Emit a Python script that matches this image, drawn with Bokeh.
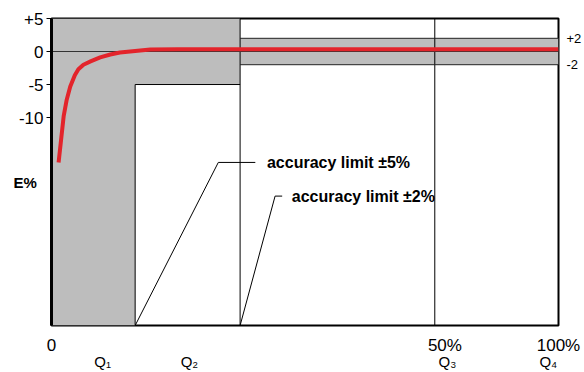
from bokeh.plotting import figure
from bokeh.models import Range1d, FixedTicker, LinearAxis
from bokeh.core.properties import value
from bokeh.embed import file_html
from bokeh.resources import INLINE

FONT = "Liberation Sans"

# x axis: position along flow-rate scale (0..100 of the drawn axis)
q1_edge = 16.5   # end of Q1 zone
q2_edge = 37.2   # end of Q2 zone
q3_pos = 75.6    # 50 % line
q4_pos = 100.0   # 100 %
y_top, y_bottom = 5.0, -41.5

x_tick_pos = [0, 77.6, 100]
x_tick_labels = ["0", "50%", "100%"]
y_ticks = [5, 0, -5, -10]
y_tick_labels = ["+5", "0", "-5", "-10"]

# error curve (E%)
curve_x = [1.4, 2.4, 3.0, 3.7, 4.6, 5.3, 6.3, 7.7, 9.6, 11.6, 13.5, 15.5, 19.5, 25, 40, 60, 80, 100]
curve_e = [-16.8, -9.8, -7.3, -5.3, -3.6, -2.7, -2.0, -1.5, -0.9, -0.45, -0.15, 0.0, 0.3, 0.35, 0.35, 0.35, 0.35, 0.35]

limit_low = 5   # ±5 %
limit_high = 2  # ±2 %
band_ticks = [2, -2]
band_labels = ["+2", "-2"]

q_labels = ["Q₁", "Q₂", "Q₃", "Q₄"]
q_label_x = [10.1, 27.2, 78.1, 98.0]

lead5_x = [q1_edge, 32.9, 40.2]
lead5_y = [y_bottom, -16.8, -16.8]
lead2_x = [q2_edge, 44.1, 45.5]
lead2_y = [y_bottom, -21.9, -21.9]
text5 = "accuracy limit ±5%"
text2 = "accuracy limit ±2%"
text5_x = 42.5
text2_x = 47.4

GREY = "#bdbdbd"

p = figure(width=584, height=372, output_backend="svg", toolbar_location=None,
           x_range=Range1d(0, 100), y_range=Range1d(y_bottom, y_top),
           min_border_left=51, min_border_right=25, min_border_top=18, min_border_bottom=46)
p.xgrid.visible = False
p.ygrid.visible = False
p.background_fill_color = "white"
p.border_fill_color = "white"
p.outline_line_color = "black"
p.outline_line_width = 2

# grey ±5 % zone
p.patch([0, q2_edge, q2_edge, q1_edge, q1_edge, 0],
        [y_top, y_top, -limit_low, -limit_low, y_bottom, y_bottom],
        fill_color=GREY, line_color=None)
# grey ±2 % band
p.quad(left=[q2_edge], right=[q4_pos], bottom=[-limit_high], top=[limit_high],
       fill_color=GREY, line_color=None)

# boundary lines
p.line([q1_edge, q2_edge], [-limit_low, -limit_low], line_color="black", line_width=1)
p.segment(x0=[q1_edge, q2_edge, q3_pos], y0=[-limit_low, y_bottom, y_bottom],
          x1=[q1_edge, q2_edge, q3_pos], y1=[y_bottom, y_top, y_top],
          line_color="black", line_width=1)
p.segment(x0=[q2_edge, q2_edge], y0=[limit_high, -limit_high],
          x1=[q4_pos, q4_pos], y1=[limit_high, -limit_high],
          line_color="#222222", line_width=1)
p.line([0, q4_pos], [0, 0], line_color="#333333", line_width=1)

# leaders
p.line(lead5_x, lead5_y, line_color="black", line_width=1)
p.line(lead2_x, lead2_y, line_color="black", line_width=1)
p.text(x=[text5_x], y=[lead5_y[-1]], text=[text5], text_font=value(FONT), text_font_style="bold",
       text_font_size="16px", text_baseline="middle", text_align="left", text_color="black")
p.text(x=[text2_x], y=[lead2_y[-1]], text=[text2], text_font=value(FONT), text_font_style="bold",
       text_font_size="16px", text_baseline="middle", text_align="left", text_color="black")

# curve
p.line(curve_x, curve_e, line_color="#e3242b", line_width=4)

# left axis
p.yaxis.ticker = FixedTicker(ticks=y_ticks)
p.yaxis.major_label_overrides = {t: l for t, l in zip(y_ticks, y_tick_labels)}
p.yaxis.major_label_text_font = FONT
p.yaxis.major_label_text_font_size = "17px"
p.yaxis.major_label_text_color = "black"
p.yaxis.axis_line_color = "black"
p.yaxis.axis_line_width = 3
p.yaxis.major_tick_out = 5
p.yaxis.major_tick_in = 0
p.yaxis.major_tick_line_color = "black"
p.yaxis.minor_tick_line_color = None
p.yaxis.minor_tick_out = 0
p.yaxis.major_label_standoff = 3
p.yaxis.axis_label = "\nE%"
p.yaxis.axis_label_orientation = "horizontal"
p.yaxis.axis_label_standoff = -21
p.yaxis.axis_label_text_font = FONT
p.yaxis.axis_label_text_font_style = "bold"
p.yaxis.axis_label_text_font_size = "15px"
p.yaxis.axis_label_text_color = "black"

# bottom axis (percent of scale)
p.xaxis.ticker = FixedTicker(ticks=x_tick_pos)
p.xaxis.major_label_overrides = {t: l for t, l in zip(x_tick_pos, x_tick_labels)}
p.xaxis.major_label_text_font = FONT
p.xaxis.major_label_text_font_size = "17px"
p.xaxis.major_label_text_color = "black"
p.xaxis.axis_line_color = None
p.xaxis.major_tick_line_color = None
p.xaxis.minor_tick_line_color = None
p.xaxis.major_tick_out = 0
p.xaxis.minor_tick_out = 0
p.xaxis.major_label_standoff = 10

# second bottom axis (Q labels)
qaxis = LinearAxis(ticker=FixedTicker(ticks=q_label_x),
                   major_label_overrides={t: l for t, l in zip(q_label_x, q_labels)},
                   major_label_text_font=FONT, major_label_text_font_size="15px",
                   major_label_text_color="black", axis_line_color=None,
                   major_tick_line_color=None, minor_tick_line_color=None,
                   major_tick_out=0, minor_tick_out=0, major_label_standoff=-5)
p.add_layout(qaxis, "below")

# right axis (band limits)
raxis = LinearAxis(ticker=FixedTicker(ticks=band_ticks),
                   major_label_overrides={t: l for t, l in zip(band_ticks, band_labels)},
                   major_label_text_font=FONT, major_label_text_font_size="13px",
                   major_label_text_color="black", axis_line_color=None,
                   major_tick_line_color=None, minor_tick_line_color=None,
                   major_tick_out=0, minor_tick_out=0, major_label_standoff=8)
p.add_layout(raxis, "right")

open("out.html", "w").write(file_html(p, INLINE))
